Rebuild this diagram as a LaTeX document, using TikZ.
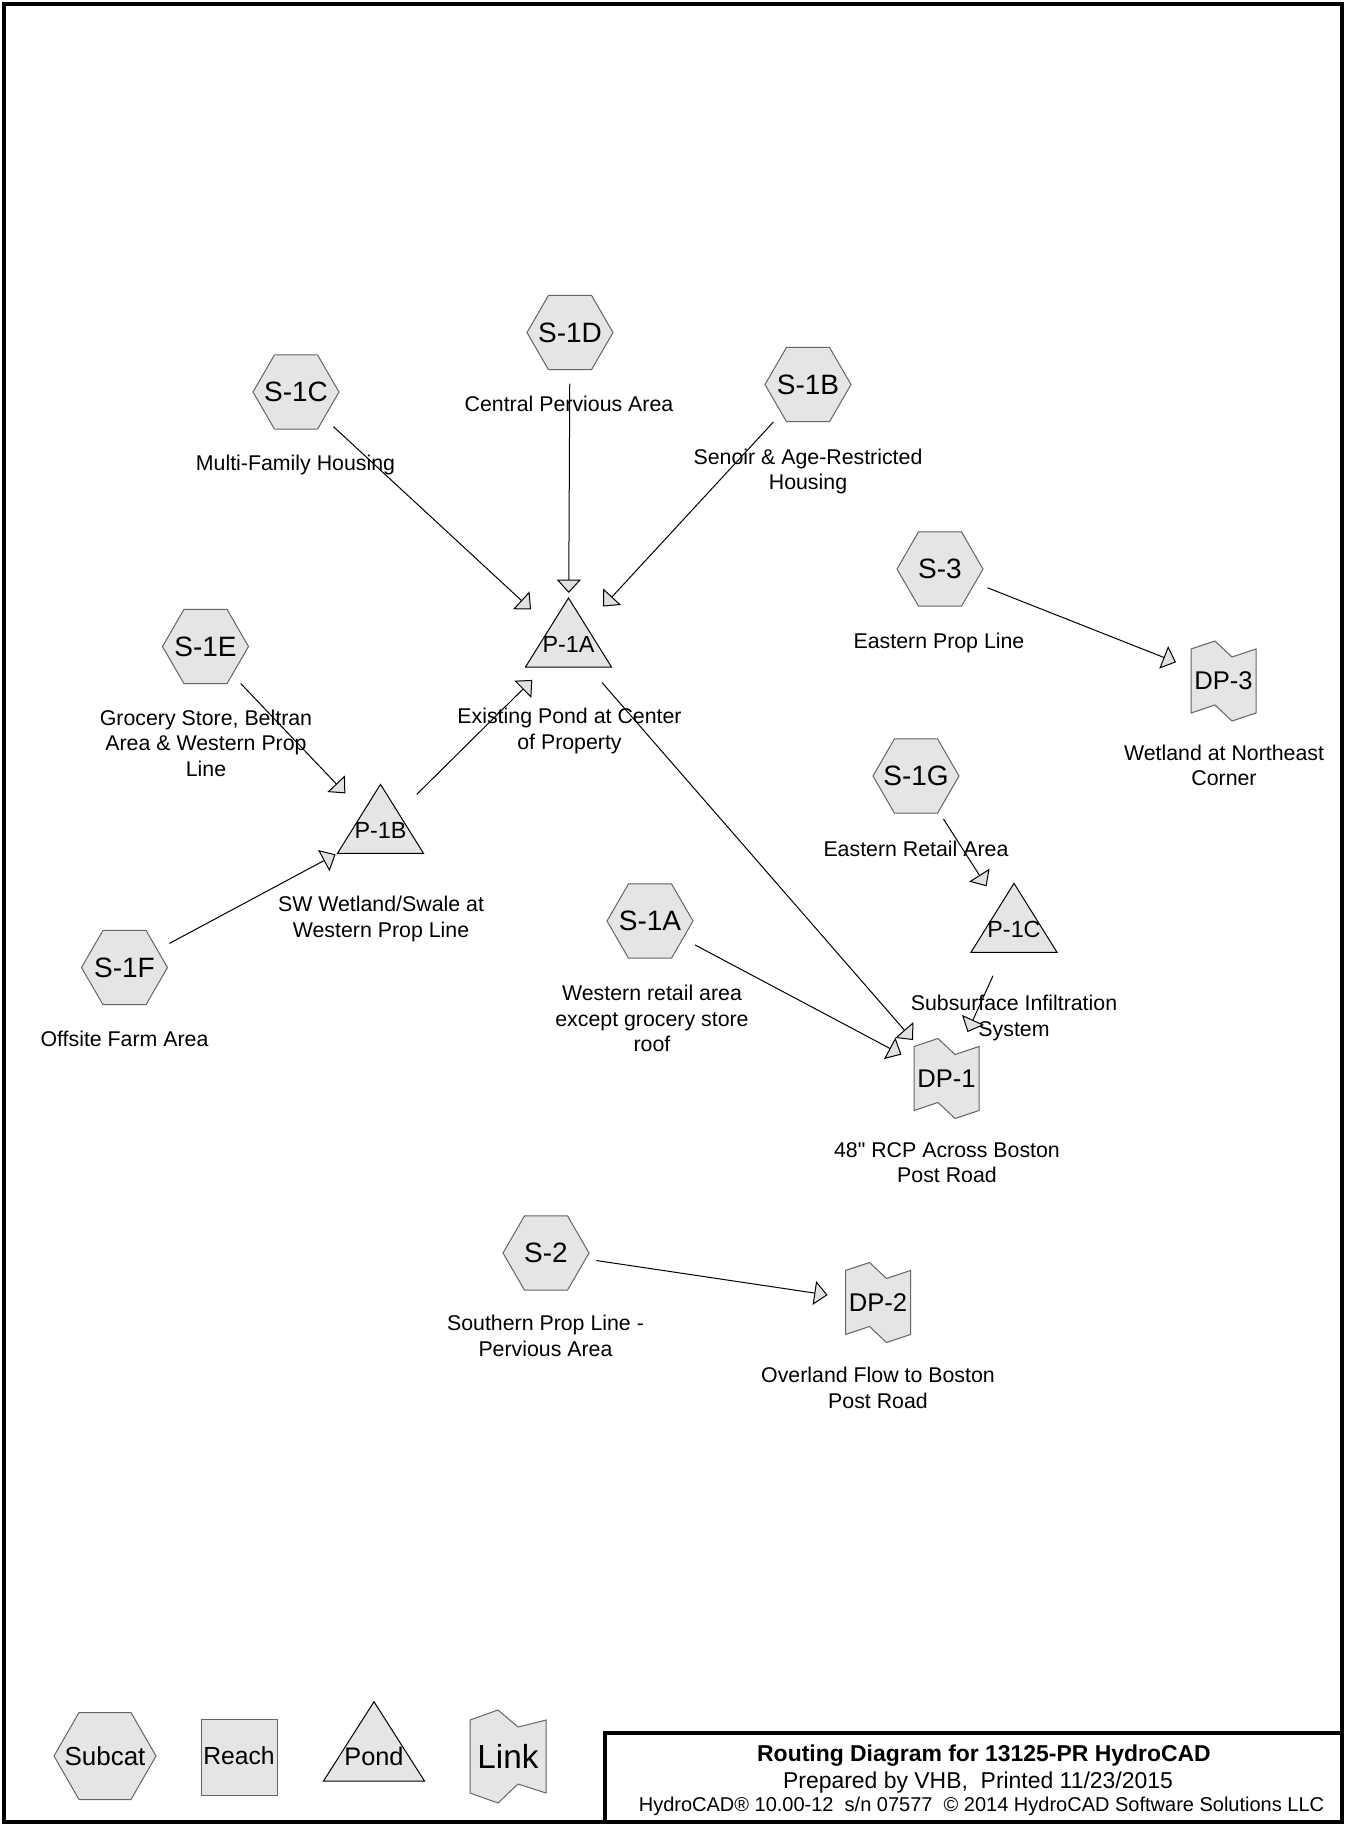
\documentclass[tikz,border=0pt]{standalone}
\usepackage{fontspec}
\setmainfont{Liberation Sans}
\newfontfamily\plainarial{Liberation Sans}
\usetikzlibrary{arrows.meta}
\definecolor{shapefill}{RGB}{229,229,229}
\definecolor{shapeline}{RGB}{100,100,100}
\definecolor{tipfill}{RGB}{225,225,225}
\begin{document}
\begin{tikzpicture}[x=0.75pt, y=-0.75pt,
  every node/.style={inner sep=0pt, outer sep=0pt},
  nodecirc/.style={circle, minimum size=76.5pt},
  subcat/.style={nodecirc, font=\fontsize{21}{24}\selectfont,
    path picture={\filldraw[fill=shapefill, draw=shapeline, line width=0.75pt]
      (path picture bounding box.center) ++(-43,0) -- ++(21.5,-37.2) -- ++(43,0)
      -- ++(21.5,37.2) -- ++(-21.5,37.2) -- ++(-43,0) -- cycle;}},
  pond/.style={nodecirc, font=\fontsize{17.5}{20}\selectfont,
    path picture={\filldraw[fill=shapefill, draw=black, line width=0.75pt]
      (path picture bounding box.center) ++(0,-46) -- ++(43,69) -- ++(-86,0) -- cycle;}},
  linkshape/.style={nodecirc, font=\fontsize{19.2}{22}\selectfont,
    path picture={\filldraw[fill=shapefill, draw=shapeline, line width=0.75pt]
      (path picture bounding box.center) ++(-32.5,-32) -- ++(24,-8) -- ++(17,16)
      -- ++(24,-8) -- ++(0,64) -- ++(-24,8) -- ++(-17,-16) -- ++(-24,8) -- cycle;}},
  flow/.style={line width=0.75pt, -{Triangle[length=10pt, width=18pt, fill=tipfill]}},
  desc/.style={font=\fontsize{16}{19.2}\selectfont, align=center, anchor=north},
  legendbox/.style={rectangle, minimum size=105pt},
  frame/.style={line width=3pt}
]
\useasboundingbox (0,0) rectangle (1345,1825);
\draw[frame] (3.5,3.5) rectangle (1341.5,1821.5);

% subcatchments
\node[subcat] (s1d) at (570,332.5) {S-1D};
\node[subcat] (s1c) at (296,392) {S-1C};
\node[subcat] (s1b) at (808,384.5) {S-1B};
\node[subcat] (s3) at (940,569) {S-3};
\node[subcat] (s1e) at (205.5,646.5) {S-1E};
\node[subcat] (s1g) at (916,776) {S-1G};
\node[subcat] (s1a) at (650,921) {S-1A};
\node[subcat] (s1f) at (124.5,967.5) {S-1F};
\node[subcat] (s2) at (546,1253) {S-2};

% ponds
\node[pond] (p1a) at (568.5,644) {P-1A};
\node[pond] (p1b) at (380.5,830.3) {P-1B};
\node[pond] (p1c) at (1014,929.3) {P-1C};

% links
\node[linkshape] (dp3) at (1223.5,681) {DP-3};
\node[linkshape] (dp1) at (946.5,1078.5) {DP-1};
\node[linkshape] (dp2) at (878,1302.5) {DP-2};

% descriptions
\node[desc] (ls1d) at (569,393.6) {\strut Central Pervious Area};
\node[desc] (ls1c) at (295.5,452.1) {\strut Multi-Family Housing};
\node[desc] (ls1b) at (808,446.1) {\strut Senoir \& Age-Restricted\\Housing};
\node[desc] (ls3) at (939,630.4) {\strut Eastern Prop Line};
\node[desc] (ldp3) at (1224,742.1) {\strut Wetland at Northeast\\Corner};
\node[desc] (ls1e) at (206,707.4) {\strut Grocery Store, Beltran\\Area \& Western Prop\\Line};
\node[desc] (lp1a) at (569.5,705.6) {\strut Existing Pond at Center\\of Property};
\node[desc] (ls1g) at (916,838.1) {\strut Eastern Retail Area};
\node[desc] (lp1b) at (381,893.8) {\strut SW Wetland/Swale at\\Western Prop Line};
\node[desc] (lp1c) at (1014,992.8) {\strut Subsurface Infiltration\\System};
\node[desc] (ls1a) at (652,982.8) {\strut Western retail area\\except grocery store\\roof};
\node[desc] (ls1f) at (124.5,1028.6) {\strut Offsite Farm Area};
\node[desc] (ldp1) at (947,1139.1) {\strut 48{\plainarial"} RCP Across Boston\\Post Road};
\node[desc] (ls2) at (545.5,1312.6) {\strut Southern Prop Line -\\Pervious Area};
\node[desc] (ldp2) at (878,1364.6) {\strut Overland Flow to Boston\\Post Road};

% connectors
\draw[flow] (s1c) -- (p1a);
\draw[flow] (s1d) -- (p1a);
\draw[flow] (s1b) -- (p1a);
\draw[flow] (p1b) -- (p1a);
\draw[flow] (s1e) -- (p1b);
\draw[flow] (s1f) -- (p1b);
\draw[flow] (p1a) -- (dp1);
\draw[flow] (s1a) -- (dp1);
\draw[flow] (p1c) -- (dp1);
\draw[flow] (s1g) -- (p1c);
\draw[flow] (s3) -- (dp3);
\draw[flow] (s2) -- (dp2);

% legend
\node[legendbox, font=\fontsize{19.5}{22}\selectfont,
  path picture={\filldraw[fill=shapefill, draw=shapeline, line width=0.75pt]
    (path picture bounding box.center) ++(-51,0) -- ++(25,-43.5) -- ++(52,0)
    -- ++(25,43.5) -- ++(-25,43.5) -- ++(-52,0) -- cycle;}] (lgsub) at (105,1756) {Subcat};
\node[legendbox, font=\fontsize{18.5}{22}\selectfont,
  path picture={\filldraw[fill=shapefill, draw=shapeline, line width=0.75pt]
    (path picture bounding box.center) ++(-38,-37) rectangle ++(76,76);}] (lgreach) at (239,1756) {Reach};
\node[legendbox, font=\fontsize{19}{22}\selectfont,
  path picture={\filldraw[fill=shapefill, draw=black, line width=0.75pt]
    (path picture bounding box.center) ++(0,-54.3) -- ++(50.5,79.3) -- ++(-101,0) -- cycle;}] (lgpond) at (374,1756) {Pond};
\node[legendbox, font=\fontsize{25}{28}\selectfont,
  path picture={\filldraw[fill=shapefill, draw=shapeline, line width=0.75pt]
    (path picture bounding box.center) ++(-38,-36) -- ++(28,-10) -- ++(20,17)
    -- ++(28,-7) -- ++(0,73) -- ++(-28,-9) -- ++(-20,19) -- ++(-28,-10) -- cycle;}] (lglink) at (508,1756) {Link};

% title block
\draw[frame] (605,1733) rectangle (1341.5,1821.5);
\node[anchor=base, font=\bfseries\fontsize{17.2}{20}\selectfont] (t1) at (984,1761) {Routing Diagram for 13125-PR HydroCAD};
\node[anchor=base, font=\fontsize{17.2}{20}\selectfont] (t2) at (978,1788) {Prepared by VHB,\ \ Printed 11/23/2015};
\node[anchor=base, font=\fontsize{15}{18}\selectfont] (t3) at (981.5,1811) {HydroCAD® 10.00-12\ \ s/n 07577\ \ © 2014 HydroCAD Software Solutions LLC};
\end{tikzpicture}
\end{document}
